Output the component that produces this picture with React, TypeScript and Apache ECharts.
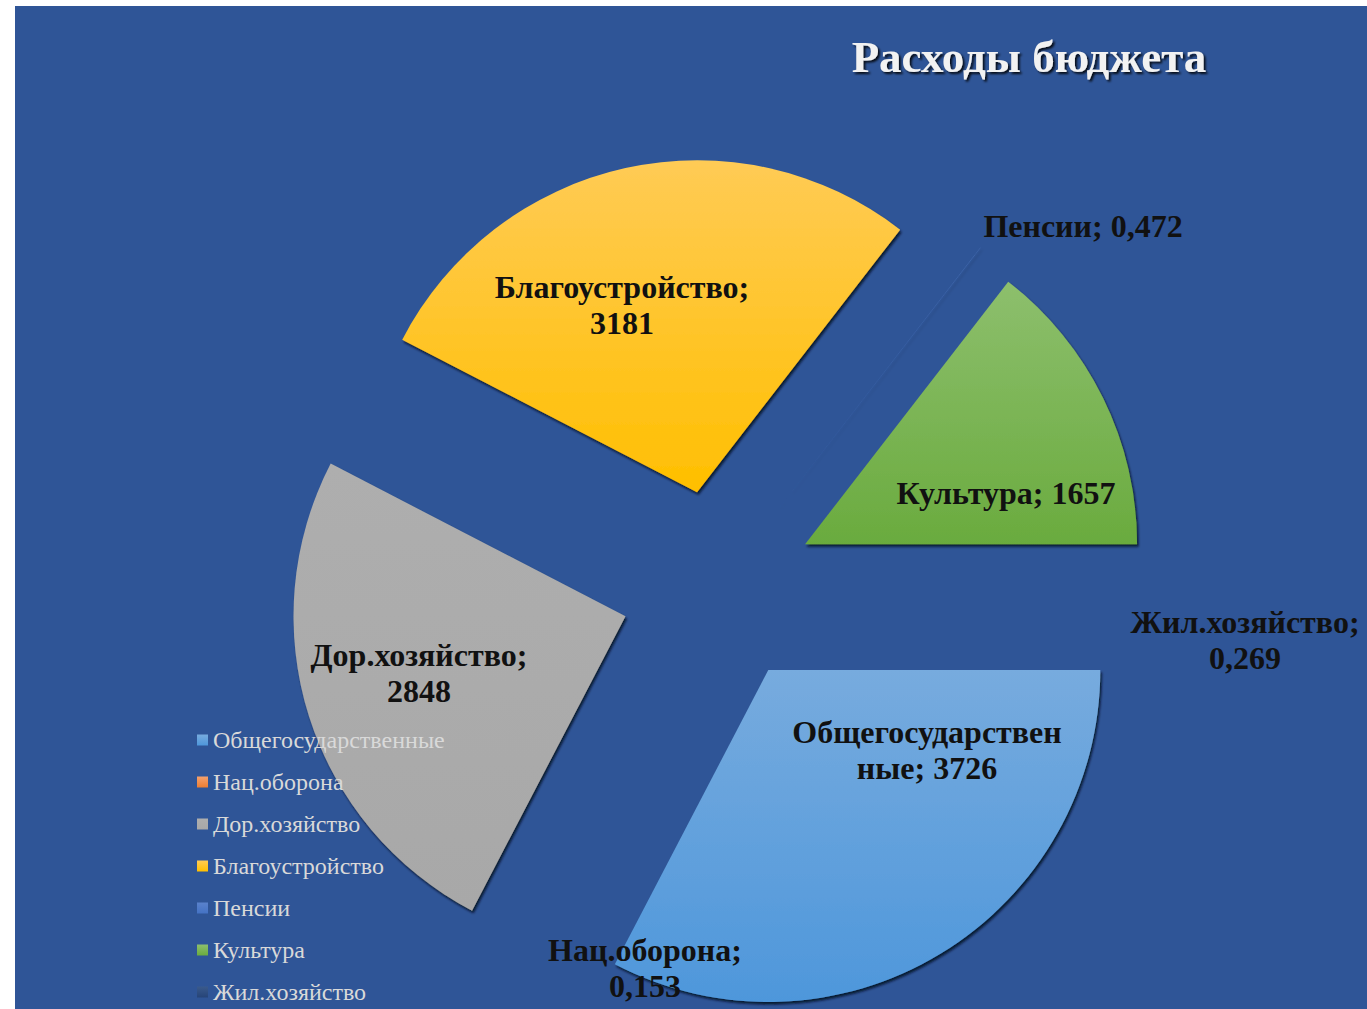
import React, { useEffect, useRef } from "react";
import * as echarts from "echarts";

const categories = [
  "Общегосударственные",
  "Нац.оборона",
  "Дор.хозяйство",
  "Благоустройство",
  "Пенсии",
  "Культура",
  "Жил.хозяйство",
];
const values = [3726, 0.153, 2848, 3181, 0.472, 1657, 0.269];
const colorsTop = ["#77ABDE", "#F4A16E", "#AEAEAE", "#FFCB55", "#5A82CC", "#8DBF6D", "#3A5A8C"];
const colorsBottom = ["#4E97DB", "#ED7D31", "#A8A8A8", "#FFBF00", "#4472C4", "#6AAB3E", "#264478"];
// label centres in chart pixels
const labelPos: [number, number][] = [
  [912, 744],
  [630, 962],
  [404, 667],
  [607, 299],
  [1068, 220],
  [991, 487],
  [1230, 634],
];

const W = 1352;
const H = 1003;
const SERIF = "'Liberation Serif', 'Times New Roman', serif";
const CENTER = [703, 581];
const RADIUS = 332;

export default function App() {
  const ref = useRef<HTMLDivElement>(null);
  useEffect(() => {
    if (!ref.current) return;
    const chart = echarts.init(ref.current, undefined, { renderer: "svg" });
    const data = categories.map((name, i) => {
      const grad = new echarts.graphic.LinearGradient(0, 0, 0, 1, [
        { offset: 0, color: colorsTop[i] },
        { offset: 1, color: colorsBottom[i] },
      ]);
      return {
        name,
        value: values[i],
        selected: true,
        itemStyle: { color: grad },
        select: { itemStyle: { color: grad } },
      };
    });
    const labelData = categories.map((name, i) => ({ name, value: values[i] }));
    chart.setOption({
      animation: false,
      backgroundColor: "#2F5597",
      title: {
        text: "Расходы бюджета",
        left: 1009,
        top: 23,
        textAlign: "center",
        textStyle: {
          fontFamily: SERIF,
          fontSize: 45,
          fontWeight: "bold",
          color: "#F2F2F2",
          textShadowColor: "rgba(0,0,0,0.85)",
          textShadowBlur: 2,
          textShadowOffsetX: 2,
          textShadowOffsetY: 2,
        },
      },
      legend: {
        orient: "vertical",
        left: 182,
        top: 722,
        height: 300,
        padding: 0,
        itemWidth: 11,
        itemHeight: 11,
        itemGap: 18,
        icon: "rect",
        data: categories,
        textStyle: {
          fontFamily: SERIF,
          fontSize: 24,
          lineHeight: 24,
          color: "#D9D9D9",
        },
      },
      series: [
        {
          type: "pie",
          center: CENTER,
          radius: [0, RADIUS],
          startAngle: 0,
          clockwise: true,
          selectedMode: "multiple",
          selectedOffset: 97,
          avoidLabelOverlap: false,
          emphasis: { disabled: true },
          itemStyle: {
            borderWidth: 0,
            shadowColor: "rgba(5,10,30,0.85)",
            shadowBlur: 2,
            shadowOffsetX: 1.5,
            shadowOffsetY: 2.5,
          },
          label: { show: false },
          labelLine: { show: false },
          data,
        },
        {
          type: "pie",
          z: 5,
          silent: true,
          center: CENTER,
          radius: [0, RADIUS],
          startAngle: 0,
          clockwise: true,
          avoidLabelOverlap: false,
          emphasis: { disabled: true },
          itemStyle: { color: "rgba(0,0,0,0)", borderWidth: 0 },
          label: {
            show: true,
            position: "inside",
            fontFamily: SERIF,
            fontSize: 32,
            lineHeight: 36,
            fontWeight: "bold",
            color: "#111111",
            formatter: (p: any) => {
              const v = String(p.value).replace(".", ",");
              if (p.name === "Общегосударственные") return "Общегосударствен\nные; " + v;
              if (p.name === "Пенсии" || p.name === "Культура") return p.name + "; " + v;
              return p.name + ";\n" + v;
            },
          },
          labelLine: { show: false },
          labelLayout: (p: any) => {
            const pos = labelPos[p.dataIndex];
            return { x: pos[0], y: pos[1], align: "center", verticalAlign: "middle" };
          },
          data: labelData,
        },
      ],
    });
    return () => chart.dispose();
  }, []);
  return (
    <div
      ref={ref}
      style={{ position: "absolute", left: 15, top: 6, width: W, height: H }}
    />
  );
}
